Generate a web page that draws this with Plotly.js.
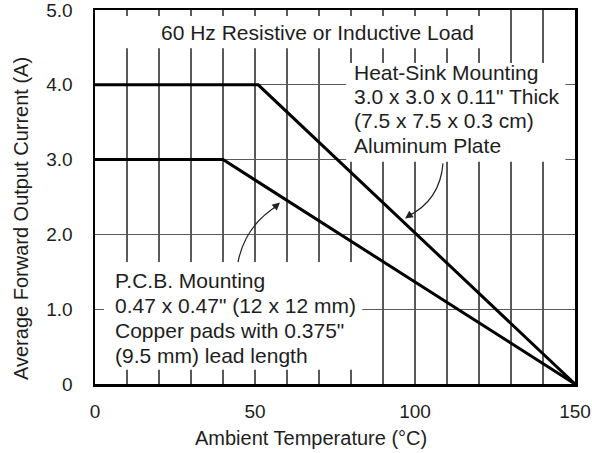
<!DOCTYPE html>
<html>
<head>
<meta charset="utf-8">
<script src="https://cdn.plot.ly/plotly-3.0.1.min.js"></script>
<style>html,body{margin:0;padding:0;background:#fff;}#chart{width:592px;height:453px;}</style>
</head>
<body>
<div id="chart"></div>
<script>
// Data
const heatSinkTemp = [0, 51, 150];
const heatSinkCurrent = [4.0, 4.0, 0];
const pcbTemp = [0, 40, 150];
const pcbCurrent = [3.0, 3.0, 0];

const xTickVals = [0,10,20,30,40,50,60,70,80,90,100,110,120,130,140,150];
const xTickText = ['0','','','','','50','','','','','100','','','','','150'];
const yTickVals = [0,1,2,3,4,5];
const yTickText = ['0','1.0','2.0','3.0','4.0','5.0'];

const xTitle = 'Ambient Temperature (°C)';
const yTitle = 'Average Forward Output Current (A)';
const noteTop = '60 Hz Resistive or Inductive Load';
const noteHeatLines = ['Heat-Sink Mounting', '3.0 x 3.0 x 0.11" Thick', '(7.5 x 7.5 x 0.3 cm)', 'Aluminum Plate'];
const notePcbLines = ['P.C.B. Mounting', '0.47 x 0.47" (12 x 12 mm)', 'Copper pads with 0.375"', '(9.5 mm) lead length'];

const FONT = 'Liberation Sans, Arial, Helvetica, sans-serif';
const TXT = '#1e1e1e';
const NOTE_SIZE = 21;

const traces = [
  {x: heatSinkTemp, y: heatSinkCurrent, mode: 'lines', line: {color: '#000', width: 3}, hoverinfo: 'skip'},
  {x: pcbTemp, y: pcbCurrent, mode: 'lines', line: {color: '#000', width: 3}, hoverinfo: 'skip'}
];

const white = {type: 'rect', xref: 'x', yref: 'y', fillcolor: '#fff', line: {width: 0}, layer: 'between'};
const shapes = [
  Object.assign({}, white, {x0: 5.5, x1: 125.5, y0: 4.49, y1: 4.92}),
  Object.assign({}, white, {x0: 78.5, x1: 147, y0: 2.97, y1: 4.29}),
  Object.assign({}, white, {x0: 2.8, x1: 83.5, y0: 0.19, y1: 1.63}),
  // curved arrow stems
  {type: 'path', xref: 'x', yref: 'y', path: 'M 108.75 2.95 Q 107.8 2.45 97.6 2.24', line: {color: '#222', width: 1.2}, layer: 'above'},
  {type: 'path', xref: 'x', yref: 'y', path: 'M 44.7 1.63 Q 46.9 2.12 57.2 2.39', line: {color: '#222', width: 1.2}, layer: 'above'}
];

function noteLine(txt, xpx, ypx) {
  return {xref: 'paper', yref: 'paper', x: (xpx - 95) / 480, y: (384 - ypx) / 374, text: txt, showarrow: false,
    xanchor: 'left', yanchor: 'middle', align: 'left', font: {family: FONT, size: NOTE_SIZE, color: TXT}};
}

const annotations = [
  {xref: 'paper', yref: 'paper', x: (317 - 95) / 480, y: (384 - 32) / 374, text: noteTop, showarrow: false, xanchor: 'center', yanchor: 'middle', font: {family: FONT, size: NOTE_SIZE, color: TXT}},
  // arrowheads
  {xref: 'x', yref: 'y', axref: 'x', ayref: 'y', x: 96.9, y: 2.213, ax: 99.5, ay: 2.29, text: '', showarrow: true, arrowhead: 2, arrowsize: 1.3, arrowwidth: 1.2, arrowcolor: '#222'},
  {xref: 'x', yref: 'y', axref: 'x', ayref: 'y', x: 57.8, y: 2.427, ax: 55.3, ay: 2.33, text: '', showarrow: true, arrowhead: 2, arrowsize: 1.3, arrowwidth: 1.2, arrowcolor: '#222'},
  // axis titles
  {xref: 'paper', yref: 'paper', x: (311 - 95) / 480, y: (384 - 438) / 374, text: xTitle, showarrow: false, xanchor: 'center', yanchor: 'middle', font: {family: FONT, size: 20, color: TXT}},
  {xref: 'paper', yref: 'paper', x: (21 - 95) / 480, y: (384 - 219) / 374, text: yTitle, showarrow: false, textangle: -90, xanchor: 'center', yanchor: 'middle', font: {family: FONT, size: 20, color: TXT}}
];
const heatY = [72, 96.5, 121, 145.5];
noteHeatLines.forEach((t, i) => annotations.push(noteLine(t, 352, heatY[i])));
const pcbY = [280, 305, 330, 355];
notePcbLines.forEach((t, i) => annotations.push(noteLine(t, 113, pcbY[i])));

const layout = {
  width: 592, height: 453,
  margin: {l: 95, r: 17, t: 10, b: 69},
  paper_bgcolor: '#fff', plot_bgcolor: '#fff',
  showlegend: false,
  font: {family: FONT, size: 19, color: TXT},
  xaxis: {
    range: [0, 150], tickmode: 'array', tickvals: xTickVals, ticktext: xTickText,
    showgrid: true, gridcolor: '#5a5a5a', gridwidth: 1.3, zeroline: false,
    showline: true, linecolor: '#000', linewidth: 2.5, mirror: true,
    ticks: '', ticklabelstandoff: 9, ticklabeloverflow: 'allow', tickfont: {family: FONT, size: 19, color: TXT}, fixedrange: true
  },
  yaxis: {
    range: [0, 5], tickmode: 'array', tickvals: yTickVals, ticktext: yTickText,
    showgrid: true, gridcolor: '#5a5a5a', gridwidth: 1.3, zeroline: false,
    showline: true, linecolor: '#000', linewidth: 2.5, mirror: true,
    ticks: '', ticklabelstandoff: 16, ticklabeloverflow: 'allow', tickfont: {family: FONT, size: 19, color: TXT}, fixedrange: true
  },
  shapes: shapes,
  annotations: annotations
};

Plotly.newPlot('chart', traces, layout, {displayModeBar: false, staticPlot: true});
</script>
</body>
</html>
